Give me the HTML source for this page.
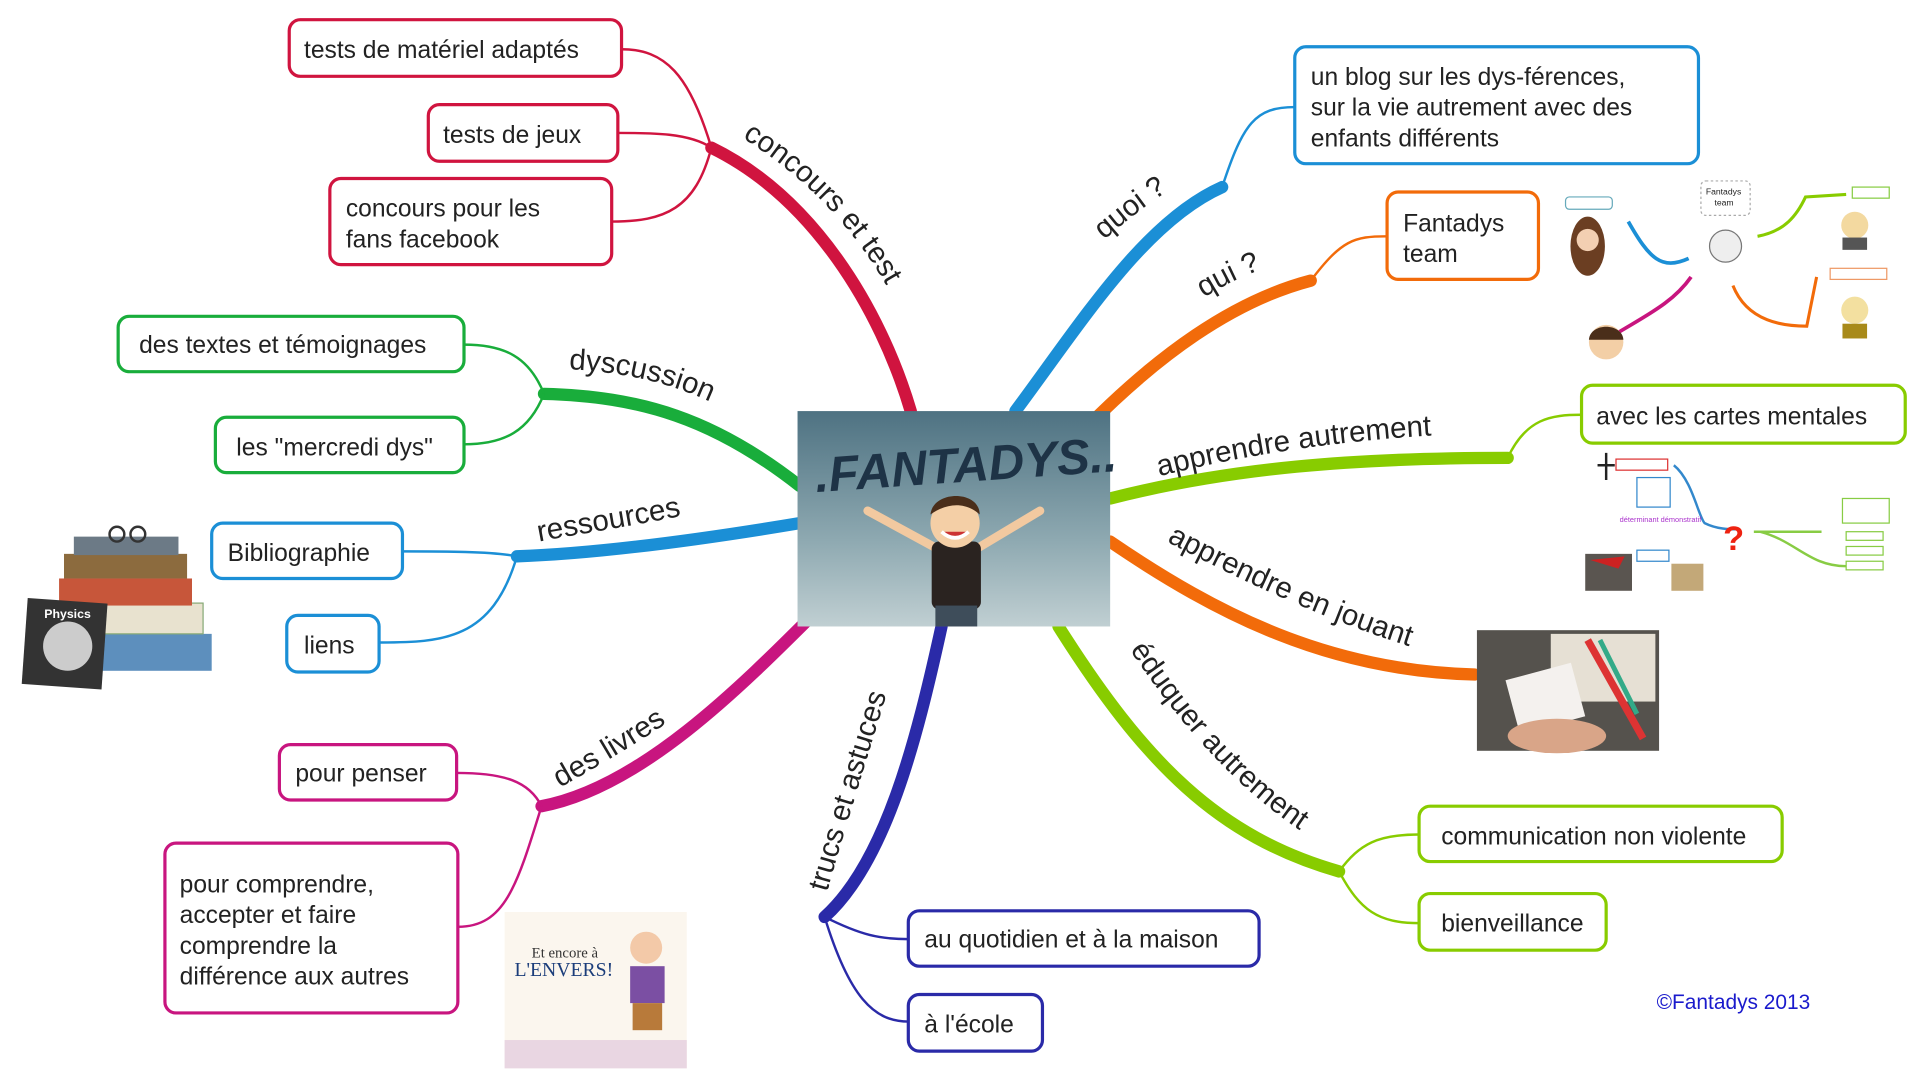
<!DOCTYPE html>
<html><head><meta charset="utf-8"><style>
html,body{margin:0;padding:0;background:#fff;}
svg{display:block;}
text{font-family:"Liberation Sans",sans-serif;fill:#222;}
.bx{fill:#fff;stroke-width:2.6;}
.t{font-size:20px;}
.lb{font-size:24px;}
.br{fill:none;stroke-linecap:round;}
.th{fill:none;stroke-width:2;}
</style></head><body>
<svg width="1920" height="1090" viewBox="0 0 1560 885.6" preserveAspectRatio="none" xmlns="http://www.w3.org/2000/svg">
<defs>
<linearGradient id="cg" x1="0" y1="0" x2="0" y2="1"><stop offset="0" stop-color="#4e7282"/><stop offset="0.6" stop-color="#8ea9b1"/><stop offset="1" stop-color="#c0cfd2"/></linearGradient>
<path id="p1" d="M603,112 C665,150 712,205 740,272"/>
<path id="p2" d="M462,300 C520,303 560,316 600,338"/>
<path id="p3" d="M438,440 C480,432 530,425 572,415"/>
<path id="p4" d="M455,640 C490,620 525,600 555,578"/>
<path id="p5" d="M672,725 C690,660 710,600 728,538"/>
<path id="p6" d="M918,528 C960,590 1010,650 1084,692"/>
<path id="p7" d="M948,440 C1020,478 1100,514 1182,536"/>
<path id="p8" d="M942,387 C1020,367 1110,355 1202,352"/>
<path id="p9" d="M978,242 C1000,228 1020,220 1040,214"/>
<path id="p10" d="M897,195 C920,175 940,160 965,145"/>
</defs>

<!-- branches -->
<path class="br" stroke="#d0143f" stroke-width="10" d="M740,334 C715,250 660,160 578,120"/>
<path class="br" stroke="#19ad3b" stroke-width="10" d="M650,395 C580,340 520,322 442,320"/>
<path class="br" stroke="#1b8fd6" stroke-width="10" d="M650,425 C560,440 480,450 420,452"/>
<path class="br" stroke="#c8157f" stroke-width="10" d="M665,495 C600,560 520,640 440,655"/>
<path class="br" stroke="#2a2aa8" stroke-width="10" d="M765,509 C745,600 720,700 670,745"/>
<path class="br" stroke="#88cc00" stroke-width="10" d="M860,509 C930,620 990,680 1088,708"/>
<path class="br" stroke="#f26b0a" stroke-width="10" d="M902,440 C990,500 1080,545 1198,548"/>
<path class="br" stroke="#88cc00" stroke-width="10" d="M902,405 C1000,380 1100,372 1225,372"/>
<path class="br" stroke="#f26b0a" stroke-width="10" d="M885,345 C940,290 1000,245 1065,228"/>
<path class="br" stroke="#1b8fd6" stroke-width="10" d="M825,334 C880,260 930,180 993,152"/>

<!-- thin connectors -->
<g stroke="#d0143f" class="th"><path d="M578,120 C560,60 540,40 505,40"/><path d="M578,120 C560,108 530,108 502,108"/><path d="M578,120 C565,170 540,180 497,180"/></g>
<g stroke="#19ad3b" class="th"><path d="M442,320 C430,290 410,280 377,280"/><path d="M442,320 C430,350 410,361 377,361"/></g>
<g stroke="#1b8fd6" class="th"><path d="M420,452 C400,448 360,448 327,448"/><path d="M420,452 C400,520 360,522 308,522"/></g>
<g stroke="#c8157f" class="th"><path d="M440,655 C430,635 410,628 371,628"/><path d="M440,655 C420,720 410,753 372,753"/></g>
<g stroke="#2a2aa8" class="th"><path d="M670,745 C700,760 715,763 738,763"/><path d="M670,745 C690,810 710,830 738,830"/></g>
<g stroke="#88cc00" class="th"><path d="M1088,708 C1105,685 1120,678 1153,678"/><path d="M1088,708 C1105,740 1120,750 1153,750"/><path d="M1225,372 C1240,340 1260,337 1285,337"/></g>
<path stroke="#f26b0a" class="th" d="M1065,228 C1090,195 1100,192 1127,192"/>
<path stroke="#1b8fd6" class="th" d="M993,152 C1010,100 1020,87 1052,87"/>

<!-- branch labels -->
<text class="lb"><textPath href="#p1">concours et test</textPath></text>
<text class="lb"><textPath href="#p2">dyscussion</textPath></text>
<text class="lb"><textPath href="#p3">ressources</textPath></text>
<text class="lb"><textPath href="#p4">des livres</textPath></text>
<text class="lb"><textPath href="#p5">trucs et astuces</textPath></text>
<text class="lb"><textPath href="#p6">éduquer autrement</textPath></text>
<text class="lb"><textPath href="#p7">apprendre en jouant</textPath></text>
<text class="lb"><textPath href="#p8">apprendre autrement</textPath></text>
<text class="lb"><textPath href="#p9">qui ?</textPath></text>
<text class="lb"><textPath href="#p10">quoi ?</textPath></text>

<!-- boxes -->
<g stroke="#d0143f"><rect class="bx" x="235" y="16" width="270" height="46" rx="9"/><rect class="bx" x="348" y="85" width="154" height="46" rx="9"/><rect class="bx" x="268" y="145" width="229" height="70" rx="9"/></g>
<text class="t" x="247" y="47">tests de matériel adaptés</text>
<text class="t" x="360" y="116">tests de jeux</text>
<text class="t" x="281" y="176">concours pour les</text><text class="t" x="281" y="201">fans facebook</text>

<g stroke="#19ad3b"><rect class="bx" x="96" y="257" width="281" height="45" rx="9"/><rect class="bx" x="175" y="339" width="202" height="45" rx="9"/></g>
<text class="t" x="113" y="287">des textes et témoignages</text>
<text class="t" x="192" y="370">les "mercredi dys"</text>

<g stroke="#1b8fd6"><rect class="bx" x="172" y="425" width="155" height="45" rx="9"/><rect class="bx" x="233" y="500" width="75" height="46" rx="9"/></g>
<text class="t" x="185" y="456">Bibliographie</text>
<text class="t" x="247" y="531">liens</text>

<g stroke="#c8157f"><rect class="bx" x="227" y="605" width="144" height="45" rx="9"/><rect class="bx" x="134" y="685" width="238" height="138" rx="9"/></g>
<text class="t" x="240" y="635">pour penser</text>
<text class="t" x="146" y="725">pour comprendre,</text><text class="t" x="146" y="750">accepter et faire</text><text class="t" x="146" y="775">comprendre la</text><text class="t" x="146" y="800">différence aux autres</text>

<g stroke="#2a2aa8"><rect class="bx" x="738" y="740" width="285" height="45" rx="9"/><rect class="bx" x="738" y="808" width="109" height="46" rx="9"/></g>
<text class="t" x="751" y="770">au quotidien et à la maison</text>
<text class="t" x="751" y="839">à l'école</text>

<g stroke="#88cc00"><rect class="bx" x="1153" y="655" width="295" height="45" rx="9"/><rect class="bx" x="1153" y="726" width="152" height="46" rx="9"/><rect class="bx" x="1285" y="313" width="263" height="47" rx="9"/></g>
<text class="t" x="1171" y="686">communication non violente</text>
<text class="t" x="1171" y="757">bienveillance</text>
<text class="t" x="1297" y="345">avec les cartes mentales</text>

<rect class="bx" stroke="#f26b0a" x="1127" y="156" width="123" height="71" rx="9"/>
<text class="t" x="1140" y="188">Fantadys</text><text class="t" x="1140" y="213">team</text>

<rect class="bx" stroke="#1b8fd6" x="1052" y="38" width="328" height="95" rx="9"/>
<text class="t" x="1065" y="69">un blog sur les dys-férences,</text><text class="t" x="1065" y="94">sur la vie autrement avec des</text><text class="t" x="1065" y="119">enfants différents</text>

<!-- central image -->
<rect x="648" y="334" width="254" height="175" fill="url(#cg)"/>
<text x="662" y="392" style="font-size:40px;font-style:italic;font-weight:bold;fill:#1e3346" transform="rotate(-4 775 380)">.FANTADYS..</text>
<path d="M705,415 L760,445 M845,415 L795,445" stroke="#f2c9a0" stroke-width="7" stroke-linecap="round"/>
<rect x="757" y="440" width="40" height="55" rx="6" fill="#2a2320"/>
<circle cx="776" cy="425" r="20" fill="#f4cfa6"/>
<path d="M756,418 C758,398 796,398 796,418 C785,408 770,408 756,418Z" fill="#4a2e1a"/>
<path d="M765,432 Q776,442 787,432" stroke="#fff" stroke-width="3" fill="#c33"/>
<rect x="760" y="492" width="34" height="17" fill="#3e4d5a"/>

<!-- books image -->
<g>
<rect x="60" y="515" width="112" height="30" fill="#5d8fbd"/>
<rect x="55" y="490" width="110" height="25" fill="#e8e2cf" stroke="#8a7"/>
<rect x="48" y="470" width="108" height="22" fill="#c7563a"/>
<rect x="52" y="450" width="100" height="20" fill="#8c6b3e"/>
<rect x="60" y="436" width="85" height="15" fill="#6c7a86"/>
<circle cx="95" cy="434" r="6" fill="none" stroke="#333" stroke-width="2"/><circle cx="112" cy="434" r="6" fill="none" stroke="#333" stroke-width="2"/>
<rect x="20" y="488" width="65" height="70" fill="#333" transform="rotate(4 52 523)"/>
<circle cx="55" cy="525" r="20" fill="#ccc"/>
<text x="36" y="502" style="font-size:10px;fill:#fff;font-weight:bold">Physics</text>
</g>

<!-- book cover -->
<rect x="410" y="741" width="148" height="127" fill="#fbf6ee"/>
<text x="432" y="778" style="font-size:12px;font-family:'Liberation Serif',serif;fill:#333">Et encore à</text>
<text x="418" y="793" style="font-size:16px;font-family:'Liberation Serif',serif;fill:#1b3d7a">L'ENVERS!</text>
<circle cx="525" cy="770" r="13" fill="#f3c9a8"/>
<rect x="512" y="785" width="28" height="30" fill="#7b4fa3"/>
<rect x="514" y="815" width="24" height="22" fill="#b87a3a"/>
<rect x="410" y="845" width="148" height="23" fill="#e9d6e2"/>

<!-- game photo -->
<rect x="1200" y="512" width="148" height="98" fill="#55524d"/>
<rect x="1260" y="515" width="85" height="55" fill="#e6e0d4"/>
<path d="M1290,520 L1335,600" stroke="#d33" stroke-width="6"/><path d="M1300,520 L1330,580" stroke="#3a8" stroke-width="4"/>
<rect x="1228" y="545" width="55" height="45" fill="#f4f1ee" transform="rotate(-15 1255 567)"/>
<ellipse cx="1265" cy="598" rx="40" ry="14" fill="#d9a588"/>

<!-- team image -->
<g font-size="6">
<rect x="1272" y="160" width="38" height="10" rx="3" fill="#fff" stroke="#6ab"/>
<ellipse cx="1290" cy="200" rx="14" ry="24" fill="#6b3e22"/><circle cx="1290" cy="195" r="9" fill="#f3cfb2"/>
<rect x="1382" y="147" width="40" height="28" rx="4" fill="#fff" stroke="#aaa" stroke-dasharray="2 2"/>
<text x="1386" y="158" style="font-size:7px">Fantadys</text><text x="1393" y="167" style="font-size:7px">team</text>
<circle cx="1402" cy="200" r="13" fill="#eee" stroke="#777"/>
<path d="M1323,180 C1340,210 1350,220 1372,210" stroke="#1b8fd6" stroke-width="3" fill="none"/>
<path d="M1315,270 C1340,255 1360,245 1374,225" stroke="#c8157f" stroke-width="3" fill="none"/>
<path d="M1428,192 C1450,188 1460,175 1467,160 L1500,158" stroke="#88cc00" stroke-width="2.5" fill="none"/>
<path d="M1408,232 C1420,262 1450,265 1468,265 L1476,225" stroke="#f26b0a" stroke-width="2.5" fill="none"/>
<rect x="1505" y="152" width="30" height="9" fill="#fff" stroke="#8c4"/>
<rect x="1487" y="218" width="46" height="9" fill="#fff" stroke="#e96"/>
<circle cx="1305" cy="278" r="14" fill="#f3cfa6"/><path d="M1291,276 C1292,262 1318,262 1319,276Z" fill="#4a2e1a"/>
<circle cx="1507" cy="183" r="11" fill="#f3d9a0"/><rect x="1497" y="193" width="20" height="10" fill="#555"/>
<circle cx="1507" cy="252" r="11" fill="#f3e0a0"/><rect x="1497" y="263" width="20" height="12" fill="#a88a1a"/>
</g>

<!-- mind map image -->
<g>
<rect x="1313" y="373" width="42" height="9" fill="#fff" stroke="#d33"/>
<rect x="1330" y="388" width="27" height="24" fill="#fff" stroke="#38c"/>
<path d="M1360,378 C1375,390 1380,420 1385,425 C1395,430 1405,430 1412,430" stroke="#38c" stroke-width="2" fill="none"/>
<text x="1316" y="424" style="font-size:6px;fill:#a3c">déterminant démonstratif</text>
<rect x="1330" y="447" width="26" height="9" fill="#fff" stroke="#38c"/>
<text x="1400" y="447" style="font-size:28px;font-weight:bold;fill:#e21">?</text>
<path d="M1425,432 L1480,432 M1430,432 C1460,440 1470,460 1500,460" stroke="#8c4" stroke-width="2" fill="none"/>
<rect x="1497" y="405" width="38" height="20" fill="#fff" stroke="#8c4"/>
<rect x="1500" y="432" width="30" height="7" fill="#fff" stroke="#8c4"/>
<rect x="1500" y="444" width="30" height="7" fill="#fff" stroke="#8c4"/>
<rect x="1500" y="456" width="30" height="7" fill="#fff" stroke="#8c4"/>
<rect x="1288" y="450" width="38" height="30" fill="#5a5550"/><path d="M1292,455 L1320,452 L1315,462Z" fill="#c22"/>
<rect x="1358" y="458" width="26" height="22" fill="#c3a878"/>
<path d="M1305,368 L1305,390 M1298,378 L1312,378" stroke="#222" stroke-width="2"/>
</g>

<text x="1346" y="820" style="font-size:17px;fill:#1a1acc">©Fantadys 2013</text>
</svg>
</body></html>
